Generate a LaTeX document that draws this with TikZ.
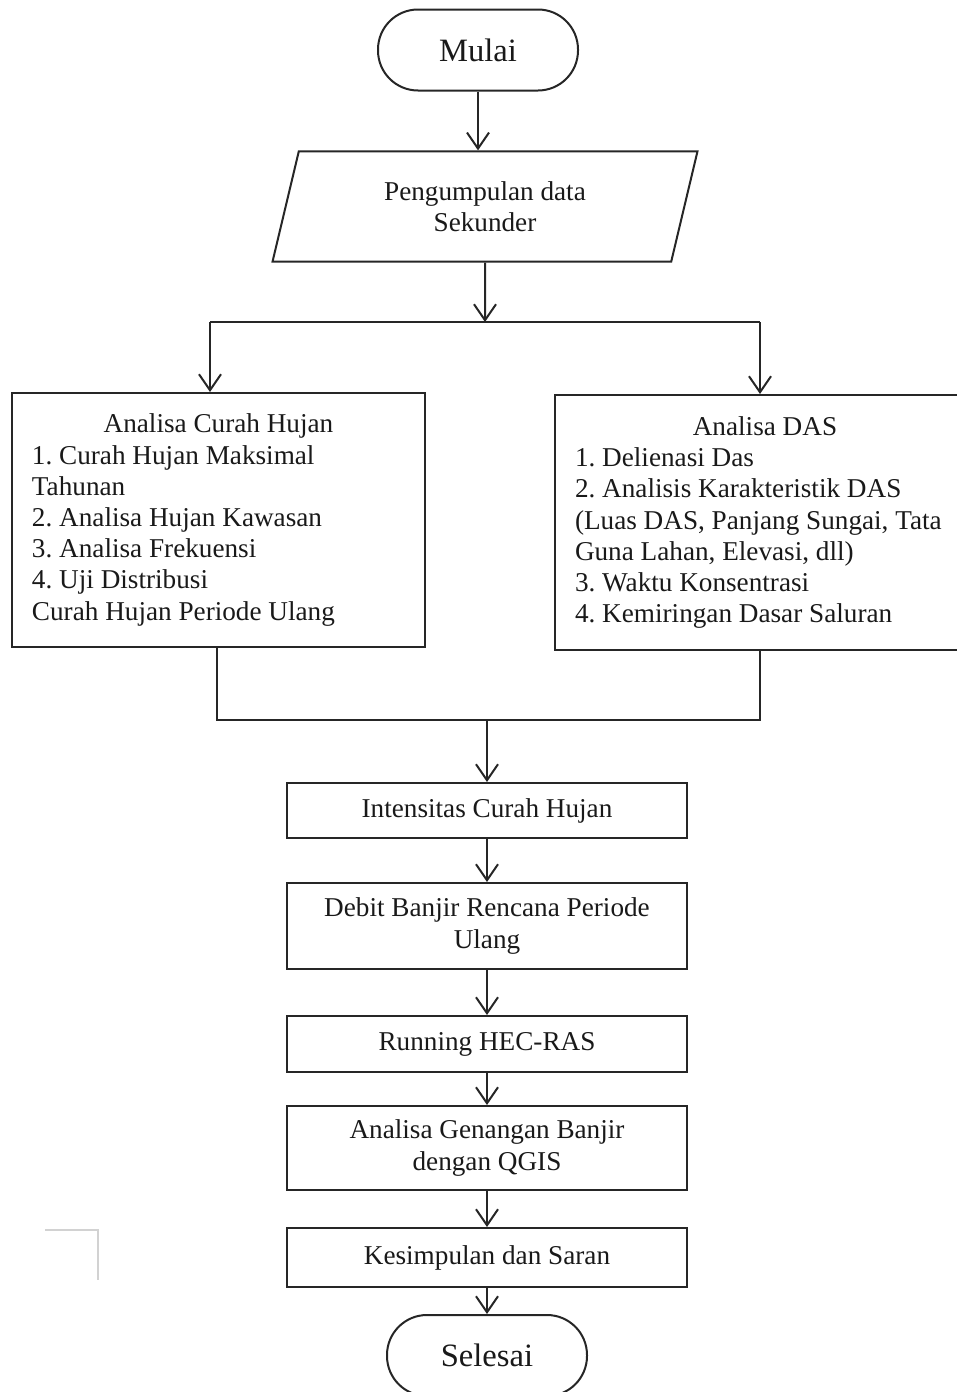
\documentclass[tikz,border=0pt]{standalone}
\usepackage{fontspec}
\setmainfont{Liberation Serif}
\usetikzlibrary{positioning,shapes.geometric,arrows.meta}
\setlength{\parindent}{0pt}
\frenchspacing
\begin{document}
\begin{tikzpicture}[x=0.5pt, y=-0.5pt, line width=1pt, draw=black!85,
    testo/.style = {font=\fontsize{13.6pt}{15.6pt}\selectfont, text=black!90},
    term/.style = {draw, rectangle, rounded corners=20pt, minimum width=100pt, minimum height=40.5pt, font=\fontsize{16.3pt}{19pt}\selectfont, text=black!90},
    proc/.style = {draw, rectangle, testo, minimum width=200pt, align=center},
    dati/.style = {draw, trapezium, trapezium left angle=76.6, trapezium right angle=103.4, minimum width=212.5pt, minimum height=52.5pt, testo, align=center},
    lista/.style = {draw, rectangle, testo, text width=186.5pt, inner xsep=10pt, align=flush left},
    freccia/.style = {-{Straight Barb[length=8pt,width=11pt]}}]
    \useasboundingbox (0,0) rectangle (957,1392);

    % Disegna i nodi del diagramma
    \node[term] (0) at (478,50) {Mulai};
    \node[dati] (1) at (485,206.5) {Pengumpulan data\\Sekunder};
    \node[lista, minimum height=127pt] (2) at (218.5,520) {\makebox[\hsize]{Analisa Curah Hujan}\\
        1. Curah Hujan Maksimal\\
        Tahunan\\
        2. Analisa Hujan Kawasan\\
        3. Analisa Frekuensi\\
        4. Uji Distribusi\\
        Curah Hujan Periode Ulang};
    \node[lista, text width=190pt, minimum height=127.5pt] (3) at (765,522.5) {\makebox[\hsize]{Analisa DAS}\\
        1. Delienasi Das\\
        2. Analisis Karakteristik DAS\\
        (Luas DAS, Panjang Sungai, Tata\\
        Guna Lahan, Elevasi, dll)\\
        3. Waktu Konsentrasi\\
        4. Kemiringan Dasar Saluran};
    \node[proc, minimum height=27.5pt] (4) at (487,810.5) {Intensitas Curah Hujan};
    \node[proc, minimum height=43pt] (5) [below=21.5pt of 4] {Debit Banjir Rencana Periode\\Ulang};
    \node[proc, minimum height=28pt] (6) [below=22.5pt of 5] {Running HEC-RAS};
    \node[proc, minimum height=42pt] (7) [below=16pt of 6] {Analisa Genangan Banjir\\dengan QGIS};
    \node[proc, minimum height=29.5pt] (8) [below=18pt of 7] {Kesimpulan dan Saran};
    \node[term] (9) [below=13pt of 8] {Selesai};

    % Punti di diramazione e di unione
    \coordinate (a) at (485,322);
    \coordinate (b) at (210,322);
    \coordinate (c) at (760,322);
    \coordinate (d) at (217,720);
    \coordinate (e) at (760,720);
    \coordinate (f) at (487,720);

    % Disegna le frecce
    \draw[freccia] (0.south) -- (0.south |- 1.north);
    \draw[freccia] (1) -- (a);
    \draw (b) -- (c);
    \draw[freccia] (b) -- (b |- 2.north);
    \draw[freccia] (c) -- (c |- 3.north);
    \draw (d |- 2.south) -- (d) -- (e) -- (e |- 3.south);
    \draw[freccia] (f) -- (4);
    \draw[freccia] (4) -- (5);
    \draw[freccia] (5) -- (6);
    \draw[freccia] (6) -- (7);
    \draw[freccia] (7) -- (8);
    \draw[freccia] (8) -- (9);

    % Segno grigio in basso a sinistra
    \draw[gray!35, line width=0.8pt] (45,1230) -- (98,1230) -- (98,1280);
\end{tikzpicture}
\end{document}
